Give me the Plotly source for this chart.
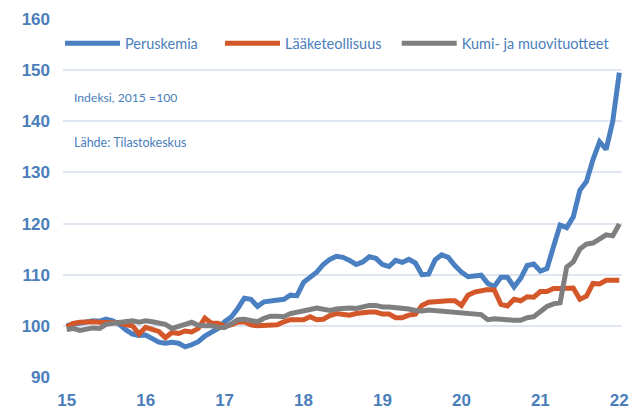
import plotly.graph_objects as go

# Monthly index values, Jan 2015 .. Jan 2022 (x in years: 15 = 2015)
months = [15 + i / 12 for i in range(85)]

peruskemia = [
    100.0, 100.4, 100.5, 100.7, 101.0, 100.9, 101.3, 101.0, 100.3, 99.2, 98.4, 98.1,
    98.2, 97.5, 96.8, 96.6, 96.8, 96.6, 95.9, 96.3, 96.9, 98.0, 98.8, 99.5,
    100.8, 101.7, 103.4, 105.4, 105.2, 103.8, 104.7, 104.8, 104.9, 105.2, 106.0, 105.9,
    108.5, 109.5, 110.5, 112.0, 113.0, 113.6, 113.4, 112.8, 112.0, 112.5, 113.5, 113.2,
    112.0, 111.6, 112.8, 112.4, 113.0, 112.3, 110.0, 110.1, 112.9, 113.9, 113.4, 111.8,
    110.5, 109.6, 109.7, 109.9, 108.3, 107.7, 109.5, 109.5, 107.6, 109.3, 111.8, 112.1,
    110.7, 111.2, 115.5, 119.7, 119.2, 121.3, 126.5, 128.2, 132.5, 136.0, 134.5, 140.0,
    149.5,
]

laaketeollisuus = [
    99.8, 100.5, 100.7, 100.8, 100.8, 100.7, 100.7, 100.6, 100.6, 100.2, 100.0, 98.4,
    99.7, 99.3, 98.9, 97.7, 98.7, 98.5, 99.0, 98.8, 99.5, 101.5, 100.5, 100.5,
    99.9, 100.2, 100.7, 100.8, 100.2, 100.0, 100.0, 100.2, 100.2, 100.8, 101.2, 101.2,
    101.2, 101.8, 101.2, 101.3, 102.0, 102.4, 102.2, 102.1, 102.4, 102.6, 102.7, 102.7,
    102.3, 102.3, 101.6, 101.6, 102.1, 102.3, 104.0, 104.6, 104.8, 104.8, 104.9, 104.9,
    104.0, 106.0, 106.6, 106.9, 107.1, 107.0, 104.2, 103.9, 105.2, 104.9, 105.7, 105.6,
    106.7, 106.7, 107.3, 107.3, 107.4, 107.4, 105.2, 105.8, 108.3, 108.2, 108.9, 109.0,
    108.9,
]

kumi_muovi = [
    99.3, 99.5, 99.1, 99.3, 99.6, 99.5, 100.3, 100.5, 100.7, 101.0, 101.0, 100.7,
    101.0, 100.8, 100.6, 100.3, 99.5, 99.8, 100.3, 100.7, 100.1, 100.0, 100.0, 99.7,
    99.7, 100.4, 101.2, 101.3, 101.0, 100.8, 101.5, 101.9, 101.9, 101.8, 102.4, 102.6,
    102.8, 103.2, 103.5, 103.3, 103.0, 103.3, 103.5, 103.5, 103.4, 103.8, 104.0, 104.0,
    103.7, 103.7, 103.6, 103.5, 103.3, 103.0, 102.9, 103.1, 103.0, 102.7, 102.7, 102.7,
    102.6, 102.5, 102.4, 102.2, 101.2, 101.4, 101.3, 101.1, 101.1, 101.1, 101.6, 101.8,
    102.9, 103.8, 104.3, 104.5, 111.5, 112.5, 115.0, 116.0, 116.2, 117.0, 117.8, 117.6,
    119.9,
]

series_names = ["Peruskemia", "Lääketeollisuus", "Kumi- ja muovituotteet"]
x_ticks = [15, 16, 17, 18, 19, 20, 21, 22]
y_ticks = [90, 100, 110, 120, 130, 140, 150, 160]

BLUE = "#4a80c2"
ORANGE = "#d4572a"
GRAY = "#7f7f7f"
TEXT = "#4a7ebb"
FONT = "Lato, Open Sans, sans-serif"

fig = go.Figure()
legend_ids = ["legend", "legend2", "legend3"]
for name, vals, col, lg in zip(series_names, [peruskemia, laaketeollisuus, kumi_muovi],
                               [BLUE, ORANGE, GRAY], legend_ids):
    fig.add_trace(go.Scatter(x=months, y=vals, mode="lines", name=name, legend=lg,
                             line=dict(color=col, width=5)))

leg_common = dict(orientation="h", yanchor="middle", xanchor="left", y=0.932,
                  font=dict(size=14.5, color=TEXT, family=FONT),
                  bgcolor="rgba(0,0,0,0)", itemwidth=55)

# page body adds an 8px offset, so the figure is 8px smaller than the window
fig.update_layout(
    width=636, height=402,
    margin=dict(l=55, r=22, t=11, b=33),
    paper_bgcolor="white", plot_bgcolor="white",
    font=dict(family=FONT, color=TEXT),
    showlegend=True,
    legend=dict(x=-0.0054, **leg_common),
    legend2=dict(x=0.2809, **leg_common),
    legend3=dict(x=0.597, **leg_common),
    xaxis=dict(range=[14.953, 22.034], tickvals=x_ticks, ticktext=[str(v) for v in x_ticks],
               showgrid=False, zeroline=False, showline=False, ticks="", automargin=False,
               tickfont=dict(size=17, color=TEXT, family="Liberation Sans"),
               ticklabelstandoff=11),
    yaxis=dict(range=[90, 160], tickvals=y_ticks, ticktext=[str(v) for v in y_ticks],
               showgrid=True, gridcolor="#dfe6f1", gridwidth=1.5, zeroline=False,
               showline=False, ticks="", automargin=False,
               tickfont=dict(size=17, color=TEXT, family="Liberation Sans"),
               ticklabelstandoff=12),
    annotations=[
        dict(text="Indeksi, 2015 =100", x=0.016, y=0.782, xref="paper", yref="paper",
             xanchor="left", yanchor="middle", showarrow=False,
             font=dict(size=12.2, color=TEXT, family=FONT)),
        dict(text="Lähde: Tilastokeskus", x=0.016, y=0.654, xref="paper", yref="paper",
             xanchor="left", yanchor="middle", showarrow=False,
             font=dict(size=12.5, color=TEXT, family=FONT)),
    ],
)
fig.update_yaxes(tickfont_weight="bold")
fig.update_xaxes(tickfont_weight="bold")

fig.write_html("out.html")
